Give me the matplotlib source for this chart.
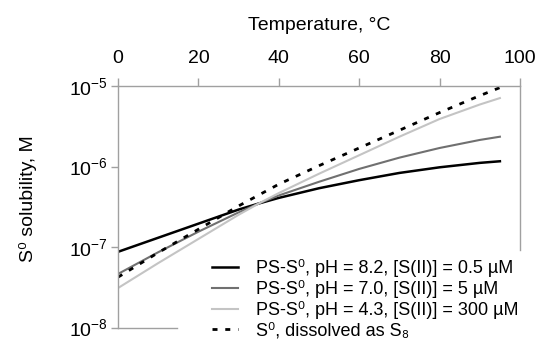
import matplotlib
matplotlib.use("Agg")
from matplotlib import pyplot as plt
from matplotlib.ticker import LogLocator, NullLocator
import numpy as np

# temperature, deg C
temps = [0, 10, 20, 30, 35, 40, 50, 60, 70, 80, 90, 95]

# log10 of solubility (M)
log_ph82 = [-7.06, -6.885, -6.71, -6.535, -6.46, -6.39, -6.27, -6.17, -6.08, -6.01, -5.955, -5.935]
log_ph70 = [-7.335, -7.065, -6.81, -6.57, -6.46, -6.36, -6.19, -6.03, -5.89, -5.77, -5.67, -5.63]
log_ph43 = [-7.51, -7.2, -6.9, -6.6, -6.46, -6.33, -6.09, -5.86, -5.63, -5.41, -5.23, -5.15]
log_s8 = [-7.375, -7.07, -6.78, -6.49, -6.355, -6.22, -5.99, -5.77, -5.55, -5.33, -5.12, -5.02]

labels = [
    "PS-S⁰, pH = 8.2, [S(II)] = 0.5 µM",
    "PS-S⁰, pH = 7.0, [S(II)] = 5 µM",
    "PS-S⁰, pH = 4.3, [S(II)] = 300 µM",
    "S⁰, dissolved as S₈",
]

plt.rcParams['font.family'] = ['Liberation Sans', 'DejaVu Sans']
plt.rcParams['mathtext.fontset'] = 'custom'
plt.rcParams['mathtext.rm'] = 'Liberation Sans'
plt.rcParams['mathtext.it'] = 'Liberation Sans:italic'
plt.rcParams['mathtext.bf'] = 'Liberation Sans:bold'

fig = plt.figure(figsize=(5.41, 3.44), dpi=100)
ax = fig.add_axes([118 / 541, 1 - 327.5 / 344, 402 / 541, 241.5 / 344])

x = np.array(temps)
ax.plot(x, 10 ** np.array(log_ph82), color='black', lw=1.8, label=labels[0])
ax.plot(x, 10 ** np.array(log_ph70), color='#707070', lw=1.5, label=labels[1])
ax.plot(x, 10 ** np.array(log_ph43), color='#c4c4c4', lw=1.5, label=labels[2])
ax.plot(x, 10 ** np.array(log_s8), color='black', lw=2.0, ls=(0, (1.8, 2.8)), label=labels[3])

ax.set_yscale('log')
ax.set_ylim(1e-8, 1e-5)
ax.set_xlim(0, 100)
ax.yaxis.set_major_locator(LogLocator(base=10, numticks=10))
ax.yaxis.set_minor_locator(NullLocator())
ax.set_xticks([0, 20, 40, 60, 80, 100])

ax.xaxis.tick_top()
ax.xaxis.set_label_position('top')
ax.set_xlabel("Temperature, °C", fontsize=14, labelpad=14)
ax.set_ylabel("S⁰ solubility, M", fontsize=14)
ax.yaxis.set_label_coords((37 - 118) / 402, (327.5 - 199) / 241.5)

for s in ax.spines.values():
    s.set_color('#a0a0a0')
    s.set_linewidth(1.0)
# legend area hides the lower part of the frame
ax.spines['bottom'].set_bounds(0, 14.7)
ax.spines['right'].set_bounds(10 ** -7.04, 1e-5)

ax.tick_params(axis='both', colors='#a0a0a0', labelcolor='black', width=1.0, labelsize=14)
ax.tick_params(axis='x', length=6, pad=8)
ax.tick_params(axis='y', length=5, pad=2)

leg = ax.legend(loc='upper left', bbox_to_anchor=(212 / 541, 1 - 259 / 344),
                bbox_transform=fig.transFigure, fontsize=13, frameon=False,
                handlelength=1.45, handletextpad=1.0, labelspacing=0.17,
                borderpad=0.0, borderaxespad=0.0)

fig.savefig('out.png', dpi=100)
